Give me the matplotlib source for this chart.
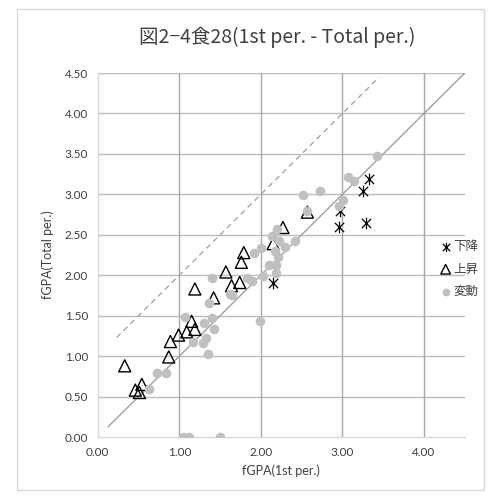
import matplotlib
matplotlib.use("Agg")
import matplotlib.pyplot as plt
from matplotlib.path import Path
from matplotlib.patches import Rectangle

plt.rcParams['font.family'] = ['Lato', 'Noto Sans CJK JP', 'DejaVu Sans']

title = "図2−4食28(1st per. - Total per.)"
x_label = "fGPA(1st per.)"
y_label = "fGPA(Total per.)"
series_names = ["下降", "上昇", "変動"]

# 下降
down_x = [2.15, 2.96, 3.29, 2.97, 3.25, 3.33]
down_y = [1.90, 2.59, 2.64, 2.80, 3.04, 3.19]

# 上昇
up_x = [0.33, 0.46, 0.54, 0.51, 0.87, 0.89, 0.99, 1.09, 1.15, 1.19,
        1.19, 1.42, 1.57, 1.64, 1.74, 1.76, 1.79, 2.15, 2.27, 2.57]
up_y = [0.88, 0.58, 0.65, 0.55, 0.99, 1.18, 1.26, 1.30, 1.43, 1.33,
        1.83, 1.72, 2.04, 1.87, 1.91, 2.16, 2.28, 2.39, 2.59, 2.78]

# 変動
var_x = [1.05, 1.12, 1.50, 0.63, 0.73, 0.84, 1.07, 1.17, 1.29, 1.33,
         1.35, 1.30, 1.40, 1.43, 1.36, 1.40, 1.62, 1.65, 1.83, 1.89,
         1.99, 2.02, 2.10, 2.19, 2.19, 2.21, 1.91, 2.00, 2.17, 2.29,
         2.22, 2.42, 2.13, 2.20, 2.52, 2.72, 2.57, 2.96, 3.01, 3.07,
         3.14, 3.42]
var_y = [0.00, 0.00, 0.00, 0.59, 0.79, 0.79, 1.48, 1.18, 1.16, 1.22,
         1.02, 1.41, 1.47, 1.33, 1.66, 1.97, 1.77, 1.76, 1.96, 1.93,
         1.44, 1.99, 2.13, 2.13, 2.03, 2.22, 2.28, 2.34, 2.30, 2.35,
         2.42, 2.42, 2.48, 2.57, 2.99, 3.04, 2.79, 2.85, 2.93, 3.21,
         3.17, 3.47]

# reference lines: y = x and y = x + 1
diag_x = [0.13, 4.50]
diag_y = [0.13, 4.50]
offset_x = [0.23, 3.45]
offset_y = [1.23, 4.45]

x_ticks = [0.0, 1.0, 2.0, 3.0, 4.0]
y_ticks = [0.0, 0.5, 1.0, 1.5, 2.0, 2.5, 3.0, 3.5, 4.0, 4.5]

# six-spoke asterisk: vertical bar plus an X
asterisk = Path([(-1, -1), (1, 1), (-1, 1), (1, -1), (0, -1.25), (0, 1.25)],
                [Path.MOVETO, Path.LINETO, Path.MOVETO, Path.LINETO,
                 Path.MOVETO, Path.LINETO])

fig = plt.figure(figsize=(4.94, 4.98), dpi=100)
fig.patches.append(Rectangle((16.5 / 494, 1 - 489.5 / 498), 467 / 494, 480 / 498,
                             transform=fig.transFigure, fill=False,
                             edgecolor="#d9d9d9", linewidth=1))

ax = fig.add_axes([97.8 / 494, 1 - 437 / 498, 367 / 494, 364 / 498])
ax.set_xlim(0, 4.5)
ax.set_ylim(0, 4.5)

for yv in y_ticks[1:]:
    ax.axhline(yv, color="#bcbcbc", lw=1, zorder=0)
for xv in x_ticks[1:]:
    ax.axvline(xv, color="#a8a8a8", lw=1, zorder=0)

for side in ["top", "right"]:
    ax.spines[side].set_visible(False)
for side in ["left", "bottom"]:
    ax.spines[side].set_color("#d9d9d9")
    ax.spines[side].set_linewidth(1)

ax.plot(diag_x, diag_y, color="#a0a0a0", lw=1, zorder=1)
ax.plot(offset_x, offset_y, color="#a6a6a6", lw=1, ls=(0, (4, 3)), zorder=1)

ax.scatter(down_x, down_y, marker=asterisk, s=70, color="black",
           linewidths=0.9, label=series_names[0], zorder=3)
ax.scatter(up_x, up_y, marker="^", s=75, facecolors="none",
           edgecolors="black", linewidths=1.0, label=series_names[1], zorder=4)
ax.scatter(var_x, var_y, marker="o", s=48, color="#c0c0c0",
           linewidths=0, label=series_names[2], zorder=5)

ax.set_xticks(x_ticks)
ax.set_yticks(y_ticks)
ax.set_xticklabels([f"{v:.2f}" for v in x_ticks])
ax.set_yticklabels([f"{v:.2f}" for v in y_ticks])
ax.tick_params(length=0, labelsize=8.5, colors="#595959", pad=7)
for lab in ax.get_xticklabels() + ax.get_yticklabels():
    lab.set_color("#404040")

ax.set_xlabel(x_label, fontsize=9, color="#404040", labelpad=5)
ax.set_ylabel(y_label, fontsize=9, color="#404040", labelpad=8)

fig.text(277 / 494, 1 - 37 / 498, title, ha="center", va="center",
         fontsize=14, color="#404040",
         family=['Noto Sans CJK JP', 'DejaVu Sans'])

leg = ax.legend(loc="center left", bbox_to_anchor=(440 / 494, 1 - 269 / 498),
                bbox_transform=fig.transFigure, frameon=False,
                handletextpad=0.2, handlelength=0.9, labelspacing=0.75,
                markerscale=0.8, borderaxespad=0, borderpad=0,
                prop={'family': ['Noto Sans CJK JP', 'DejaVu Sans'], 'size': 9})
for t in leg.get_texts():
    t.set_color("#404040")

fig.savefig("out.png", dpi=100)
